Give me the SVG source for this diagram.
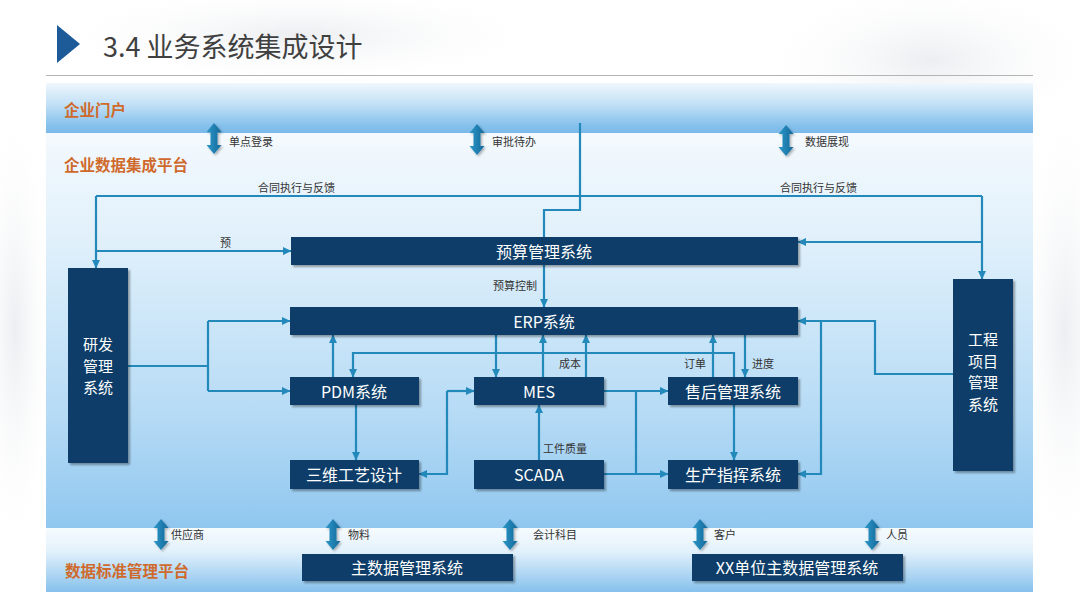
<svg xmlns="http://www.w3.org/2000/svg" width="1080" height="608" viewBox="0 0 1080 608">
<defs>
<style>
.node rect{fill:#0f3c68;filter:url(#sh)}
.node text{fill:#ffffff;font-family:"Noto Sans CJK SC","Liberation Sans",sans-serif;font-size:16px;text-anchor:middle;dominant-baseline:central}
.node text.v{dominant-baseline:auto;font-size:15px}
.lbl{fill:#333333;font-family:"Noto Sans CJK SC","Liberation Sans",sans-serif;font-size:11px}
.plat{fill:#cf6a2c;font-family:"Noto Sans CJK SC",sans-serif;font-size:15.5px;font-weight:bold}
#connectors path{fill:none;stroke:#2389bb;stroke-width:2.2}
#connectors path.a{marker-end:url(#ah)}
.dbl{fill:url(#dg);filter:url(#sh2)}
</style>
<marker id="ah" markerUnits="userSpaceOnUse" markerWidth="9" markerHeight="8" refX="8" refY="4" orient="auto" viewBox="0 0 9 8">
<path d="M0,0 L8.5,4 L0,8 Z" fill="#2389bb"/>
</marker>
<filter id="sh" x="-10%" y="-20%" width="130%" height="160%">
<feDropShadow dx="2" dy="2" stdDeviation="1.2" flood-color="#000" flood-opacity="0.35"/>
</filter>
<filter id="sh2" x="-50%" y="-20%" width="200%" height="150%">
<feDropShadow dx="1.5" dy="1.5" stdDeviation="1" flood-color="#000" flood-opacity="0.3"/>
</filter>
<linearGradient id="dg" x1="0" y1="0" x2="1" y2="0">
<stop offset="0" stop-color="#2c98c9"/><stop offset="1" stop-color="#14689a"/>
</linearGradient>
<linearGradient id="gTop" x1="0" y1="0" x2="0" y2="1">
<stop offset="0" stop-color="#f0f7fd"/><stop offset="0.45" stop-color="#bfdff6"/><stop offset="0.85" stop-color="#86c1ec"/><stop offset="1" stop-color="#7ab9e9"/>
</linearGradient>
<linearGradient id="gMid" x1="0" y1="0" x2="0" y2="1">
<stop offset="0" stop-color="#f1f8fd"/><stop offset="0.25" stop-color="#e0f0fb"/><stop offset="0.7" stop-color="#b6dbf5"/><stop offset="1" stop-color="#90c7ef"/>
</linearGradient>
<linearGradient id="gBot" x1="0" y1="0" x2="0" y2="1">
<stop offset="0" stop-color="#f6fbfe"/><stop offset="0.35" stop-color="#e4f2fc"/><stop offset="1" stop-color="#86c1ec"/>
</linearGradient>
<radialGradient id="haze">
<stop offset="0" stop-color="#eceef1"/><stop offset="1" stop-color="#ffffff" stop-opacity="0"/>
</radialGradient>
<path id="dbl" d="M0,0 L7.5,9 L3.5,9 L3.5,22 L7.5,22 L0,31 L-7.5,22 L-3.5,22 L-3.5,9 L-7.5,9 Z"/>
</defs>

<rect width="1080" height="608" fill="#ffffff"/>
<ellipse cx="300" cy="35" rx="260" ry="50" fill="url(#haze)"/>
<ellipse cx="930" cy="60" rx="180" ry="80" fill="url(#haze)"/>
<ellipse cx="1065" cy="330" rx="50" ry="240" fill="url(#haze)"/>
<ellipse cx="15" cy="330" rx="40" ry="240" fill="url(#haze)"/>

<!-- title -->
<path d="M57,25 L80,44 L57,63 Z" fill="#1c5b98"/>
<text x="103" y="57" font-family="'Noto Sans CJK SC','Liberation Sans',sans-serif" font-size="27" fill="#404040">3.4 业务系统集成设计</text>
<line x1="46" y1="75.5" x2="1033" y2="75.5" stroke="#b4b4b4" stroke-width="1"/>

<!-- panels -->
<rect x="46" y="83" width="987" height="50" fill="url(#gTop)"/>
<rect x="46" y="133" width="987" height="12" fill="#f4f9fd"/>
<rect x="46" y="145" width="987" height="383" fill="url(#gMid)"/>
<rect x="46" y="528" width="987" height="64" fill="url(#gBot)"/>

<text class="plat" x="64" y="116">企业门户</text>
<text class="plat" x="64" y="171">企业数据集成平台</text>
<text class="plat" x="65" y="577">数据标准管理平台</text>

<!-- double arrows -->
<g id="interfaces">
<use href="#dbl" class="dbl" x="214" y="123"/>
<use href="#dbl" class="dbl" x="477" y="124"/>
<use href="#dbl" class="dbl" x="786" y="125"/>
<use href="#dbl" class="dbl" x="161" y="519"/>
<use href="#dbl" class="dbl" x="333" y="519"/>
<use href="#dbl" class="dbl" x="510" y="519"/>
<use href="#dbl" class="dbl" x="700" y="519"/>
<use href="#dbl" class="dbl" x="872" y="519"/>
<text class="lbl" x="229" y="146">单点登录</text>
<text class="lbl" x="492" y="146">审批待办</text>
<text class="lbl" x="805" y="146">数据展现</text>
<text class="lbl" x="171" y="539">供应商</text>
<text class="lbl" x="348" y="539">物料</text>
<text class="lbl" x="533" y="539">会计科目</text>
<text class="lbl" x="714" y="539">客户</text>
<text class="lbl" x="886" y="539">人员</text>
</g>

<!-- connectors -->
<g id="connectors">
<path class="a" d="M580,123 V210 H544 V307"/>
<path d="M96,196 H982"/>
<path class="a" d="M96,196 V268"/>
<path class="a" d="M982,196 V279"/>
<path class="a" d="M96,251 H291"/>
<path class="a" d="M982,242 H798"/>
<path d="M128,366 H208 M208,321 V391"/>
<path class="a" d="M208,321 H290"/>
<path class="a" d="M208,391 H290"/>
<path class="a" d="M333,377 V335"/>
<path class="a" d="M356,405 V460"/>
<path class="a" d="M496,335 V377"/>
<path class="a" d="M543,377 V335"/>
<path class="a" d="M586,377 V335"/>
<path class="a" d="M734,377 V353 H353 V377"/>
<path class="a" d="M734,405 V460"/>
<path class="a" d="M713,377 V335"/>
<path class="a" d="M745,335 V377"/>
<path class="a" d="M604,391 H668"/>
<path d="M636,391 V474"/>
<path class="a" d="M604,474 H668"/>
<path class="a" d="M539,460 V405"/>
<path class="a" d="M447,391 H474"/>
<path class="a" d="M447,391 V474 H419"/>
<path class="a" d="M953,374 H875 V321 H798"/>
<path class="a" d="M821,321 V474 H798"/>
<text class="lbl" x="258" y="192">合同执行与反馈</text>
<text class="lbl" x="780" y="192">合同执行与反馈</text>
<text class="lbl" x="220" y="247">预</text>
<text class="lbl" x="493" y="290">预算控制</text>
<text class="lbl" x="559" y="368">成本</text>
<text class="lbl" x="684" y="368">订单</text>
<text class="lbl" x="752" y="368">进度</text>
<text class="lbl" x="543" y="453">工件质量</text>
</g>

<!-- nodes -->
<g id="budget" class="node"><rect x="291" y="237" width="507" height="28"/><text x="544" y="251">预算管理系统</text></g>
<g id="erp" class="node"><rect x="290" y="307" width="508" height="28"/><text x="544" y="321">ERP系统</text></g>
<g id="pdm" class="node"><rect x="290" y="377" width="129" height="28"/><text x="354" y="391">PDM系统</text></g>
<g id="mes" class="node"><rect x="474" y="377" width="130" height="28"/><text x="539" y="391">MES</text></g>
<g id="aftersales" class="node"><rect x="668" y="377" width="130" height="28"/><text x="733" y="391">售后管理系统</text></g>
<g id="process3d" class="node"><rect x="290" y="460" width="129" height="29"/><text x="354" y="474">三维工艺设计</text></g>
<g id="scada" class="node"><rect x="474" y="460" width="130" height="29"/><text x="539" y="474">SCADA</text></g>
<g id="command" class="node"><rect x="668" y="460" width="130" height="29"/><text x="733" y="474">生产指挥系统</text></g>
<g id="rnd" class="node"><rect x="68" y="268" width="60" height="195"/>
<text class="v" x="98" y="350"><tspan x="98" y="350">研发</tspan><tspan x="98" y="371.5">管理</tspan><tspan x="98" y="393">系统</tspan></text></g>
<g id="project" class="node"><rect x="953" y="279" width="60" height="192"/>
<text class="v" x="983" y="345"><tspan x="983" y="345">工程</tspan><tspan x="983" y="366.5">项目</tspan><tspan x="983" y="388">管理</tspan><tspan x="983" y="409.5">系统</tspan></text></g>
<g id="mdm" class="node"><rect x="302" y="554" width="211" height="27"/><text x="407" y="567">主数据管理系统</text></g>
<g id="xxmdm" class="node"><rect x="692" y="554" width="211" height="27"/><text x="797" y="567">XX单位主数据管理系统</text></g>
</svg>
